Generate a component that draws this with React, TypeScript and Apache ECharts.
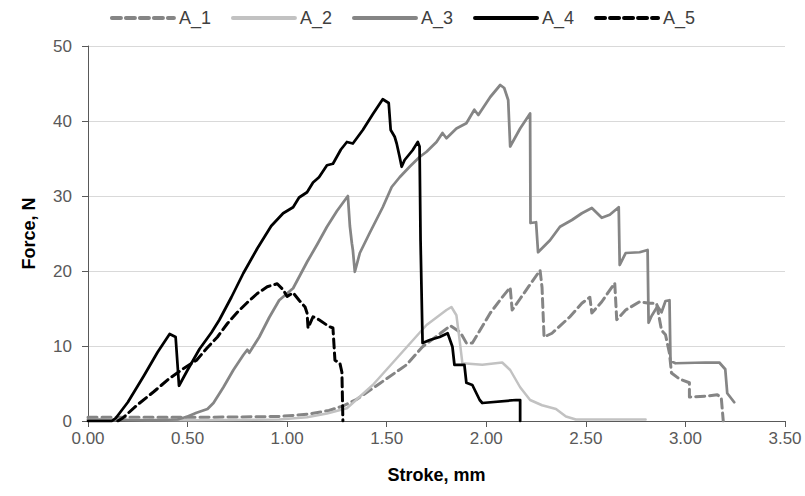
import React, { useEffect, useRef } from "react";
import * as echarts from "echarts";

const seriesNames = ["A_1", "A_2", "A_3", "A_4", "A_5"];
const xTicks = [0, 0.5, 1, 1.5, 2, 2.5, 3, 3.5];
const yTicks = [0, 10, 20, 30, 40, 50];

const A_1: [number, number][] = [
  [0, 0.5], [0.3, 0.5], [0.6, 0.5], [0.96, 0.6], [1.1, 0.9], [1.21, 1.4], [1.28, 2.0], [1.35, 2.9],
  [1.465, 5.0], [1.6, 7.5], [1.68, 9.9], [1.77, 11.7], [1.82, 12.7], [1.87, 11.8], [1.9, 10.4],
  [1.93, 10.4], [2.02, 14.4], [2.08, 16.5], [2.12, 17.8], [2.13, 14.8], [2.17, 16.3], [2.27, 20.1],
  [2.28, 17.8], [2.29, 11.2], [2.33, 11.7], [2.42, 13.9], [2.48, 15.7], [2.52, 16.5], [2.53, 14.4],
  [2.58, 15.9], [2.645, 18.4], [2.655, 13.5], [2.7, 14.8], [2.77, 15.9], [2.82, 15.7], [2.855, 15.7],
  [2.88, 12.1], [2.9, 11.5], [2.92, 9.0], [2.93, 6.4], [2.97, 5.6], [3.02, 5.1], [3.02, 3.2],
  [3.1, 3.3], [3.16, 3.5], [3.18, 3.1], [3.19, 0],
];

const A_2: [number, number][] = [
  [0, 0.2], [0.5, 0.1], [0.96, 0.2], [1.1, 0.5], [1.2, 1.0], [1.3, 1.7], [1.43, 4.8], [1.565, 8.8],
  [1.7, 12.8], [1.8, 14.8], [1.825, 15.2], [1.85, 14.1], [1.865, 11.0], [1.88, 7.7], [1.98, 7.5],
  [2.08, 7.8], [2.12, 6.8], [2.17, 4.5], [2.22, 2.8], [2.28, 2.1], [2.35, 1.6], [2.4, 0.6],
  [2.45, 0.2], [2.8, 0.2],
];

const A_3: [number, number][] = [
  [0, 0.2], [0.3, 0.1], [0.45, 0.2], [0.5, 0.6], [0.545, 1.1], [0.6, 1.6], [0.63, 2.4], [0.68, 4.5],
  [0.73, 6.8], [0.78, 8.8], [0.8, 9.5], [0.81, 9.1], [0.86, 11.2], [0.91, 13.8], [0.96, 16.1],
  [1.03, 17.7], [1.1, 21.2], [1.15, 23.5], [1.2, 25.9], [1.25, 28.0], [1.305, 30.0], [1.315, 26.0],
  [1.325, 23.7], [1.33, 22.8], [1.34, 19.9], [1.365, 22.4], [1.415, 25.1], [1.48, 28.5],
  [1.525, 31.2], [1.565, 32.5], [1.615, 33.9], [1.665, 35.2], [1.7, 35.9], [1.75, 37.2],
  [1.78, 38.4], [1.8, 37.7], [1.85, 39.0], [1.9, 39.7], [1.94, 41.5], [1.96, 40.8], [2.02, 43.2],
  [2.07, 44.8], [2.09, 44.4], [2.11, 42.8], [2.12, 36.6], [2.17, 39.0], [2.22, 41.0], [2.222, 26.4],
  [2.25, 26.5], [2.26, 22.5], [2.32, 24.1], [2.37, 25.9], [2.43, 26.8], [2.48, 27.7], [2.53, 28.4],
  [2.58, 27.1], [2.62, 27.5], [2.665, 28.5], [2.67, 20.8], [2.7, 22.4], [2.77, 22.5], [2.81, 22.8],
  [2.815, 13.1], [2.83, 14.0], [2.86, 15.3], [2.88, 14.5], [2.9, 16.0], [2.92, 16.1], [2.925, 8.0],
  [2.95, 7.7], [3.1, 7.8], [3.17, 7.8], [3.2, 6.9], [3.21, 3.7], [3.245, 2.5],
];

const A_4: [number, number][] = [
  [0, 0], [0.12, 0], [0.14, 0.4], [0.2, 2.5], [0.28, 6.0], [0.35, 9.2], [0.41, 11.6], [0.44, 11.2],
  [0.457, 4.7], [0.5, 6.8], [0.56, 9.6], [0.62, 11.8], [0.66, 13.5], [0.72, 16.5], [0.78, 19.7],
  [0.85, 23.0], [0.92, 26.0], [0.98, 27.7], [1.03, 28.5], [1.06, 29.8], [1.1, 30.5], [1.13, 31.8],
  [1.16, 32.5], [1.2, 34.1], [1.23, 34.3], [1.27, 36.2], [1.3, 37.2], [1.33, 37.0], [1.38, 38.8],
  [1.43, 40.9], [1.48, 42.9], [1.51, 42.4], [1.52, 38.8], [1.54, 37.9], [1.55, 37.0], [1.565, 35.2],
  [1.575, 33.9], [1.59, 34.8], [1.63, 36.1], [1.656, 37.2], [1.665, 36.6], [1.67, 24.0], [1.68, 10.4],
  [1.716, 10.8], [1.766, 11.2], [1.806, 11.7], [1.83, 9.9], [1.84, 7.5], [1.89, 7.5], [1.9, 5.1],
  [1.93, 4.8], [1.967, 2.8], [1.98, 2.4], [2.15, 2.8], [2.17, 2.8], [2.17, 0],
];

const A_5: [number, number][] = [
  [0.15, 0], [0.175, 0.4], [0.25, 2.2], [0.33, 3.9], [0.41, 5.7], [0.48, 7.0], [0.545, 8.1],
  [0.6, 9.8], [0.65, 11.2], [0.7, 13.0], [0.75, 14.5], [0.8, 15.8], [0.85, 17.0], [0.9, 17.9],
  [0.95, 18.3], [0.98, 17.5], [1.0, 16.6], [1.03, 17.1], [1.06, 16.1], [1.09, 15.2], [1.1, 14.4],
  [1.105, 12.4], [1.13, 13.9], [1.16, 13.5], [1.21, 12.6], [1.23, 12.4], [1.24, 8.1], [1.265, 7.7],
  [1.275, 6.5], [1.28, 0],
];

const seriesData = [A_1, A_2, A_3, A_4, A_5];
const seriesColors = ["#858585", "#c2c2c2", "#858585", "#000000", "#000000"];
const seriesDash: (number[] | "solid")[] = [[9, 5], "solid", "solid", "solid", [9, 5]];
const seriesWidth = [3, 2.5, 2.75, 2.75, 3];

const FONT = "'Liberation Sans', Arial, sans-serif";

export default function App() {
  const ref = useRef<HTMLDivElement>(null);
  useEffect(() => {
    if (!ref.current) return;
    const chart = echarts.init(ref.current, null, { renderer: "svg" });
    chart.setOption({
      animation: false,
      textStyle: { fontFamily: FONT },
      legend: {
        top: 4,
        left: "center",
        itemWidth: 62,
        itemHeight: 16,
        itemGap: 20,
        itemStyle: { opacity: 0 },
        lineStyle: { width: 4 },
        textStyle: { fontFamily: FONT, fontSize: 18, color: "#404040" },
        data: seriesNames,
      },
      grid: { left: 88, right: 20, top: 46, bottom: 75 },
      xAxis: {
        type: "value",
        min: xTicks[0],
        max: xTicks[xTicks.length - 1],
        interval: 0.5,
        name: "Stroke, mm",
        nameLocation: "middle",
        nameGap: 45,
        nameTextStyle: { fontFamily: FONT, fontSize: 18, fontWeight: "bold", color: "#000" },
        axisLine: { lineStyle: { color: "#595959", width: 1 } },
        axisTick: { show: true, length: 6, inside: false, lineStyle: { color: "#595959" } },
        axisLabel: {
          fontFamily: FONT,
          fontSize: 17,
          color: "#595959",
          margin: 9,
          formatter: (v: number) => v.toFixed(2),
        },
        splitLine: { show: false },
      },
      yAxis: {
        type: "value",
        min: yTicks[0],
        max: yTicks[yTicks.length - 1],
        interval: 10,
        name: "Force, N",
        nameLocation: "middle",
        nameGap: 50,
        nameTextStyle: { fontFamily: FONT, fontSize: 18, fontWeight: "bold", color: "#000" },
        axisLine: { show: true, lineStyle: { color: "#595959", width: 1 } },
        axisTick: { show: true, length: 6, lineStyle: { color: "#595959" } },
        axisLabel: { fontFamily: FONT, fontSize: 17, color: "#595959", margin: 16 },
        splitLine: { show: true, lineStyle: { color: "#d9d9d9", width: 1 } },
      },
      series: seriesNames.map((name, i) => ({
        name,
        type: "line",
        data: seriesData[i],
        symbol: "none",
        showSymbol: false,
        smooth: false,
        itemStyle: { color: seriesColors[i] },
        lineStyle: {
          color: seriesColors[i],
          width: seriesWidth[i],
          type: seriesDash[i],
          cap: "round",
          join: "round",
        },
        z: [1, 2, 3, 5, 4][i],
      })),
    });
    return () => chart.dispose();
  }, []);
  return <div ref={ref} style={{ width: 805, height: 496, position: "absolute", left: 0, top: 0 }} />;
}
